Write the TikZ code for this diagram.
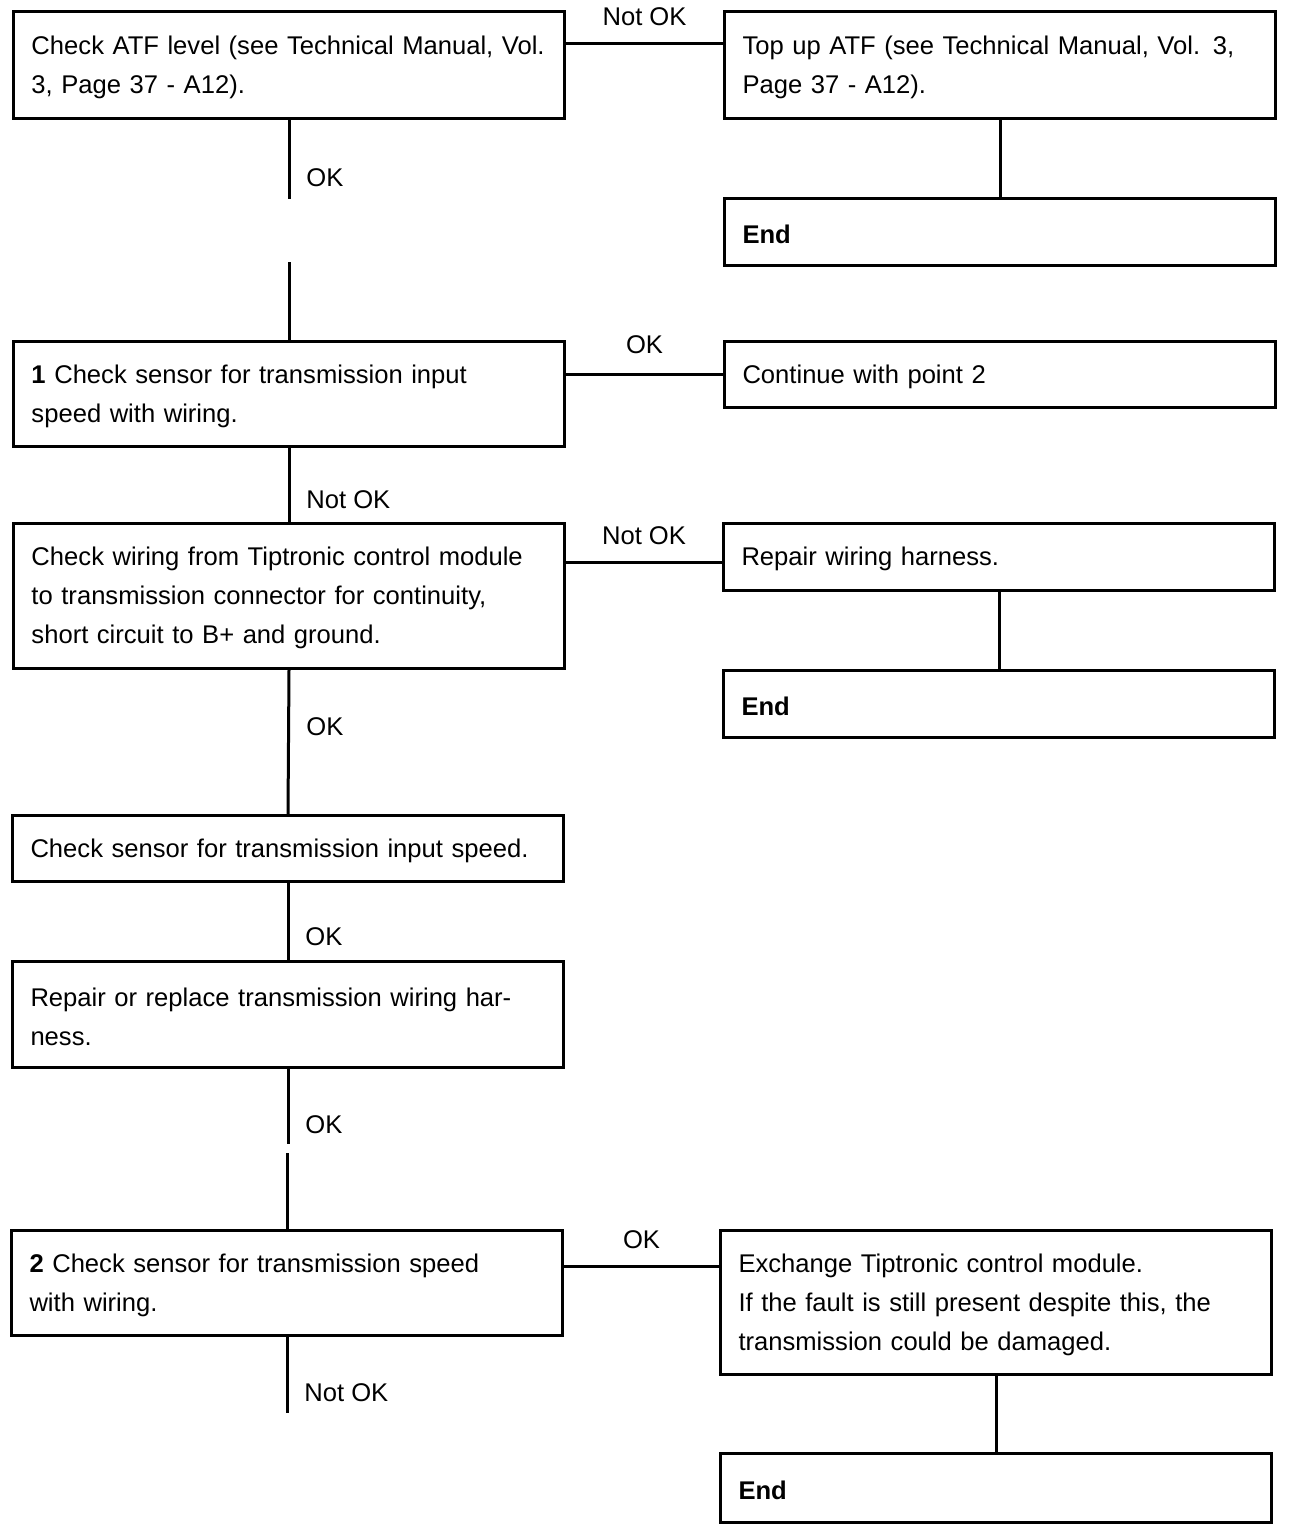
\documentclass[tikz,border=0pt]{standalone}
\usepackage{fontspec}
\setmainfont{Liberation Sans}
\newcommand\fsz{\fontsize{12.8pt}{19.5pt}\selectfont}
\begin{document}
\begin{tikzpicture}[x=0.5pt,y=-0.5pt,
  box/.style={draw, line width=1.5pt, rectangle, anchor=north west, inner xsep=9pt, inner ysep=0pt,
    align=left, text width=257.5pt, font=\fsz, execute at begin node={\rule{0pt}{11.6pt}}},
  conn/.style={line width=1.5pt},
  lbl/.style={font=\fsz, inner sep=0pt}]
\fill[white] (0,0) rectangle (1296,1530);
\useasboundingbox (0,0) rectangle (1296,1530);

% left column
\node[box, minimum height=53.5pt] (A) at (12,10) {Check ATF level (see Technical Manual, Vol.\\3, Page 37 - A12).};
\node[box, minimum height=52.5pt] (B1) at (12,340) {\textbf{1} Check sensor for transmission input\\speed with wiring.};
\node[box, minimum height=72.5pt] (C) at (12,522) {Check wiring from Tiptronic control module\\to transmission connector for continuity,\\short circuit to B+ and ground.};
\node[box, minimum height=33pt] (D) at (11,814) {Check sensor for transmission input speed.};
\node[box, minimum height=53pt] (E) at (11,960) {Repair or replace transmission wiring har-\\ness.};
\node[box, minimum height=52.5pt] (B2) at (10,1229) {\textbf{2} Check sensor for transmission speed\\with wiring.};

% right column
\node[box, minimum height=53.5pt] (B) at (723,10) {Top up ATF (see Technical Manual, Vol. 3,\\Page 37 - A12).};
\node[box, minimum height=33.5pt] (End1) at (723,197) {\textbf{End}};
\node[box, minimum height=33pt] (Cont) at (723,340) {Continue with point 2};
\node[box, minimum height=33.5pt] (Rep) at (722,522) {Repair wiring harness.};
\node[box, minimum height=33.5pt] (End2) at (722,669) {\textbf{End}};
\node[box, minimum height=72pt] (Ex) at (719,1229) {Exchange Tiptronic control module.\\If the fault is still present despite this, the\\transmission could be damaged.};
\node[box, minimum height=34.5pt] (End3) at (719,1452) {\textbf{End}};

% connectors
\draw[conn] ([yshift=-17pt]A.north east) -- ([yshift=-17pt]B.north west)
  node[lbl, midway, yshift=13.5pt] (l1) {Not OK};
\draw[conn] (B.south) -- (End1.north);

\draw[conn] (A.south) -- ++(0,79) coordinate (a1);
\node[lbl, anchor=west] (l2) at ([xshift=8.5pt, yshift=10.5pt]a1) {OK};
\draw[conn] (B1.north) -- ++(0,-78) coordinate (a2);

\draw[conn] (B1.east |- Cont.west) -- (Cont.west)
  node[lbl, midway, yshift=15pt] (l3) {OK};

\draw[conn] (B1.south) -- (C.north);
\node[lbl, anchor=west] (l4) at ([xshift=8.5pt, yshift=11pt]C.north) {Not OK};

\draw[conn] ([yshift=-20pt]C.north east) -- ([yshift=-20pt]Rep.north west)
  node[lbl, midway, yshift=13pt] (l5) {Not OK};
\draw[conn] (Rep.south) -- (End2.north);

\draw[conn] (C.south) -- (D.north);
\node[lbl, anchor=west] (l6) at ([xshift=8.5pt, yshift=-28.5pt]C.south) {OK};

\draw[conn] (D.south) -- (E.north);
\node[lbl, anchor=west] (l7) at ([xshift=8.5pt, yshift=11.5pt]E.north) {OK};

\draw[conn] (E.south) -- ++(0,75) coordinate (a3);
\node[lbl, anchor=west] (l8) at ([xshift=8.5pt, yshift=-28pt]E.south) {OK};
\draw[conn] (B2.north) -- ++(0,-76) coordinate (a4);

\draw[conn] ([yshift=-18.5pt]B2.north east) -- ([yshift=-18.5pt]Ex.north west)
  node[lbl, midway, yshift=13pt] (l9) {OK};
\draw[conn] (Ex.south) -- (End3.north);

\draw[conn] (B2.south) -- ++(0,76) coordinate (a5);
\node[lbl, anchor=west] (l10) at ([xshift=8.5pt, yshift=-28pt]B2.south) {Not OK};
\end{tikzpicture}
\end{document}
